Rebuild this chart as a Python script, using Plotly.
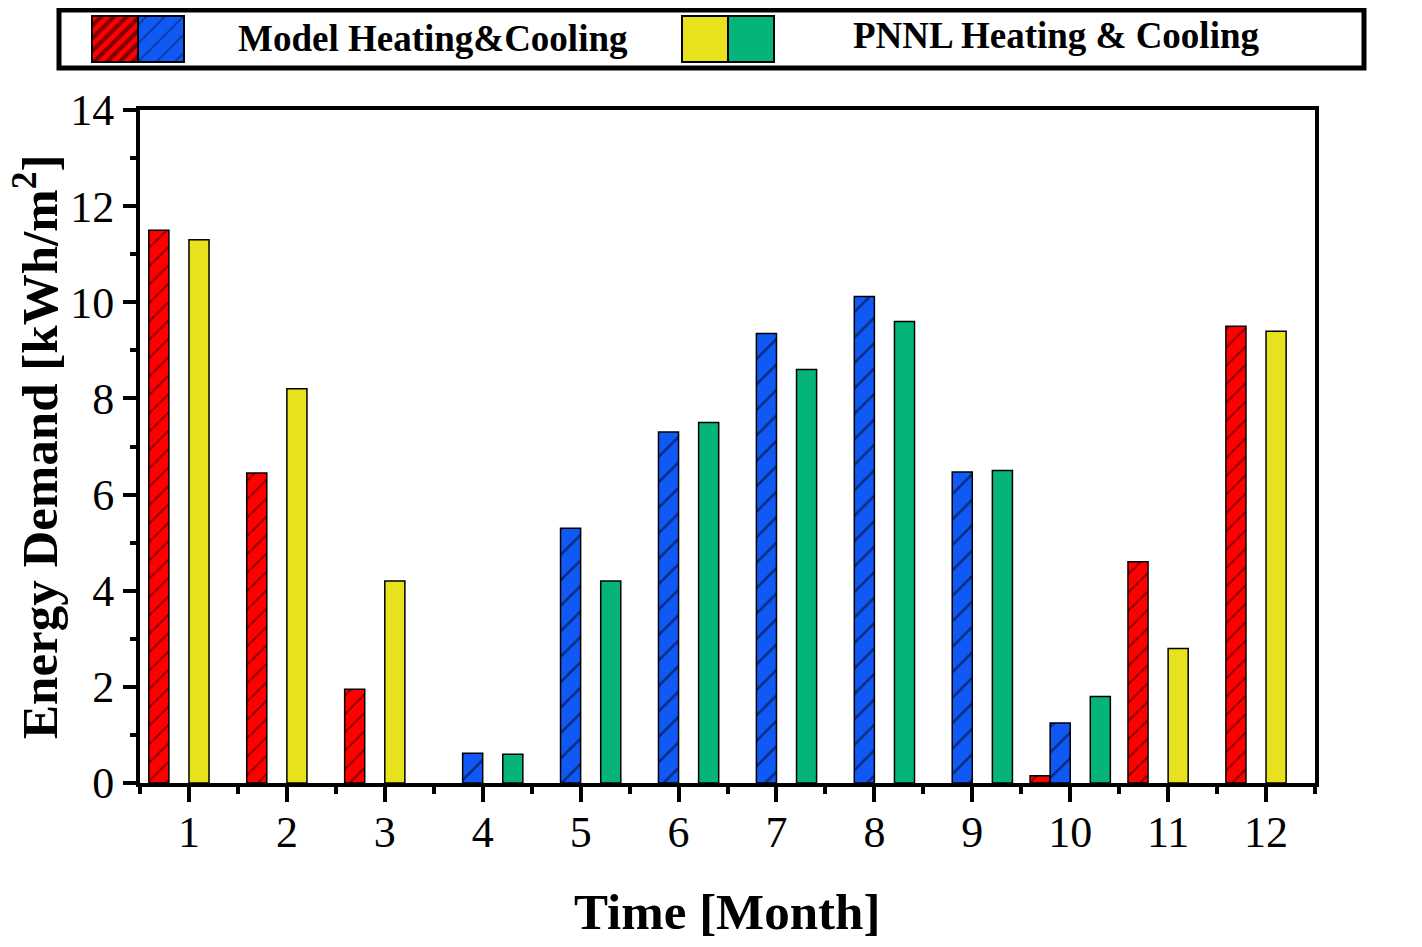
import plotly.graph_objects as go

# monthly energy demand [kWh/m2]
months = list(range(1, 13))
model_heating = [11.5, 6.45, 1.95, None, None, None, None, None, None, 0.15, 4.6, 9.5]
model_cooling = [None, None, None, 0.62, 5.3, 7.3, 9.35, 10.12, 6.47, 1.25, None, None]
pnnl_heating = [11.3, 8.2, 4.2, None, None, None, None, None, None, None, 2.8, 9.4]
pnnl_cooling = [None, None, None, 0.6, 4.2, 7.5, 8.6, 9.6, 6.5, 1.8, None, None]

RED = '#FF0000'
BLUE = '#1059F5'
YELLOW = '#E8E21E'
GREEN = '#05B47A'
FONT = 'Liberation Serif'

# the page body has an 8px margin, so work in shifted pixel coordinates
OFF = 8
W, H = 1422 - 2 * OFF, 947 - 2 * OFF

def px(x):
    return (x - OFF) / W

def py(y):
    return 1 - (y - OFF) / H

# plot area in reference pixels
X0, X1, Y0, Y1 = 140, 1315, 110, 783

fig = go.Figure()

def add_bars(vals, color, name, hatch=None, hsize=13):
    pattern = dict(shape=hatch, fgcolor='black', bgcolor=color, size=hsize, solidity=0.14) if hatch else None
    fig.add_trace(go.Bar(
        x=months, y=vals, name=name,
        marker=dict(color=color, line=dict(color='black', width=1.5), pattern=pattern),
        showlegend=False
    ))

add_bars(model_heating, RED, 'Model Heating', '/', 13)
add_bars(model_cooling, BLUE, 'Model Cooling', '/', 18)
add_bars(pnnl_heating, YELLOW, 'PNNL Heating')
add_bars(pnnl_cooling, GREEN, 'PNNL Cooling')

# legend swatches drawn on a hidden pixel-space axis
def swatch(x, color, hatch=None, hsize=8, solidity=0.1):
    pattern = dict(shape=hatch, fgcolor='black', bgcolor=color, size=hsize,
                   solidity=solidity, fillmode='overlay') if hatch else None
    fig.add_trace(go.Bar(
        x=[x - OFF], y=[46], base=[16 - OFF], width=46, offset=0,
        marker=dict(color=color, line=dict(color='black', width=2), pattern=pattern),
        xaxis='x2', yaxis='y2', showlegend=False, hoverinfo='skip'
    ))

swatch(92, RED, '/', 9, 0.45)
swatch(138, BLUE, '/', 13, 0.1)
swatch(682, YELLOW)
swatch(728, GREEN)

axis_common = dict(showline=True, linecolor='black', linewidth=4, mirror=True,
                   ticks='outside', tickcolor='black', tickwidth=4, showgrid=False,
                   zeroline=False, tickfont=dict(family=FONT, size=44, color='black'))

fig.update_layout(
    width=W, height=H,
    margin=dict(l=0, r=0, t=0, b=0, autoexpand=False),
    paper_bgcolor='white', plot_bgcolor='rgba(0,0,0,0)',
    barmode='group', bargap=0.18,
    xaxis=dict(domain=[px(X0), px(X1)], range=[0.5, 12.5], tick0=1, dtick=1, ticklen=15,
               ticklabelstandoff=-8,
               minor=dict(tick0=0.5, dtick=1, ticklen=7, tickwidth=4, ticks='outside', tickcolor='black'),
               **axis_common),
    yaxis=dict(domain=[py(Y1), py(Y0)], range=[0, 14], dtick=2, ticklen=13,
               minor=dict(dtick=1, ticklen=6, tickwidth=4, ticks='outside', tickcolor='black'),
               **axis_common),
    xaxis2=dict(domain=[0, 1], range=[0, W], visible=False, anchor='y2', fixedrange=True),
    yaxis2=dict(domain=[0, 1], range=[H, 0], visible=False, anchor='x2', fixedrange=True),
)

# legend frame
fig.add_shape(type='rect', xref='paper', yref='paper',
              x0=px(59), x1=px(1364), y0=py(68), y1=py(10),
              line=dict(color='black', width=5))

def label(x, y, text, size, angle=0):
    fig.add_annotation(x=px(x), y=py(y), xref='paper', yref='paper', text=text,
                       showarrow=False, xanchor='center', yanchor='middle', textangle=angle,
                       font=dict(family=FONT, size=size, color='black'))

label(433, 38, '<b>Model Heating&Cooling</b>', 37)
label(1056, 35, '<b>PNNL Heating & Cooling</b>', 37)

# axis titles
label(727, 912, '<b>Time [Month]</b>', 51)
label(36, 447, '<b>Energy Demand [kWh/m<sup>2</sup>]</b>', 51, -90)

fig.write_html("out.html")
